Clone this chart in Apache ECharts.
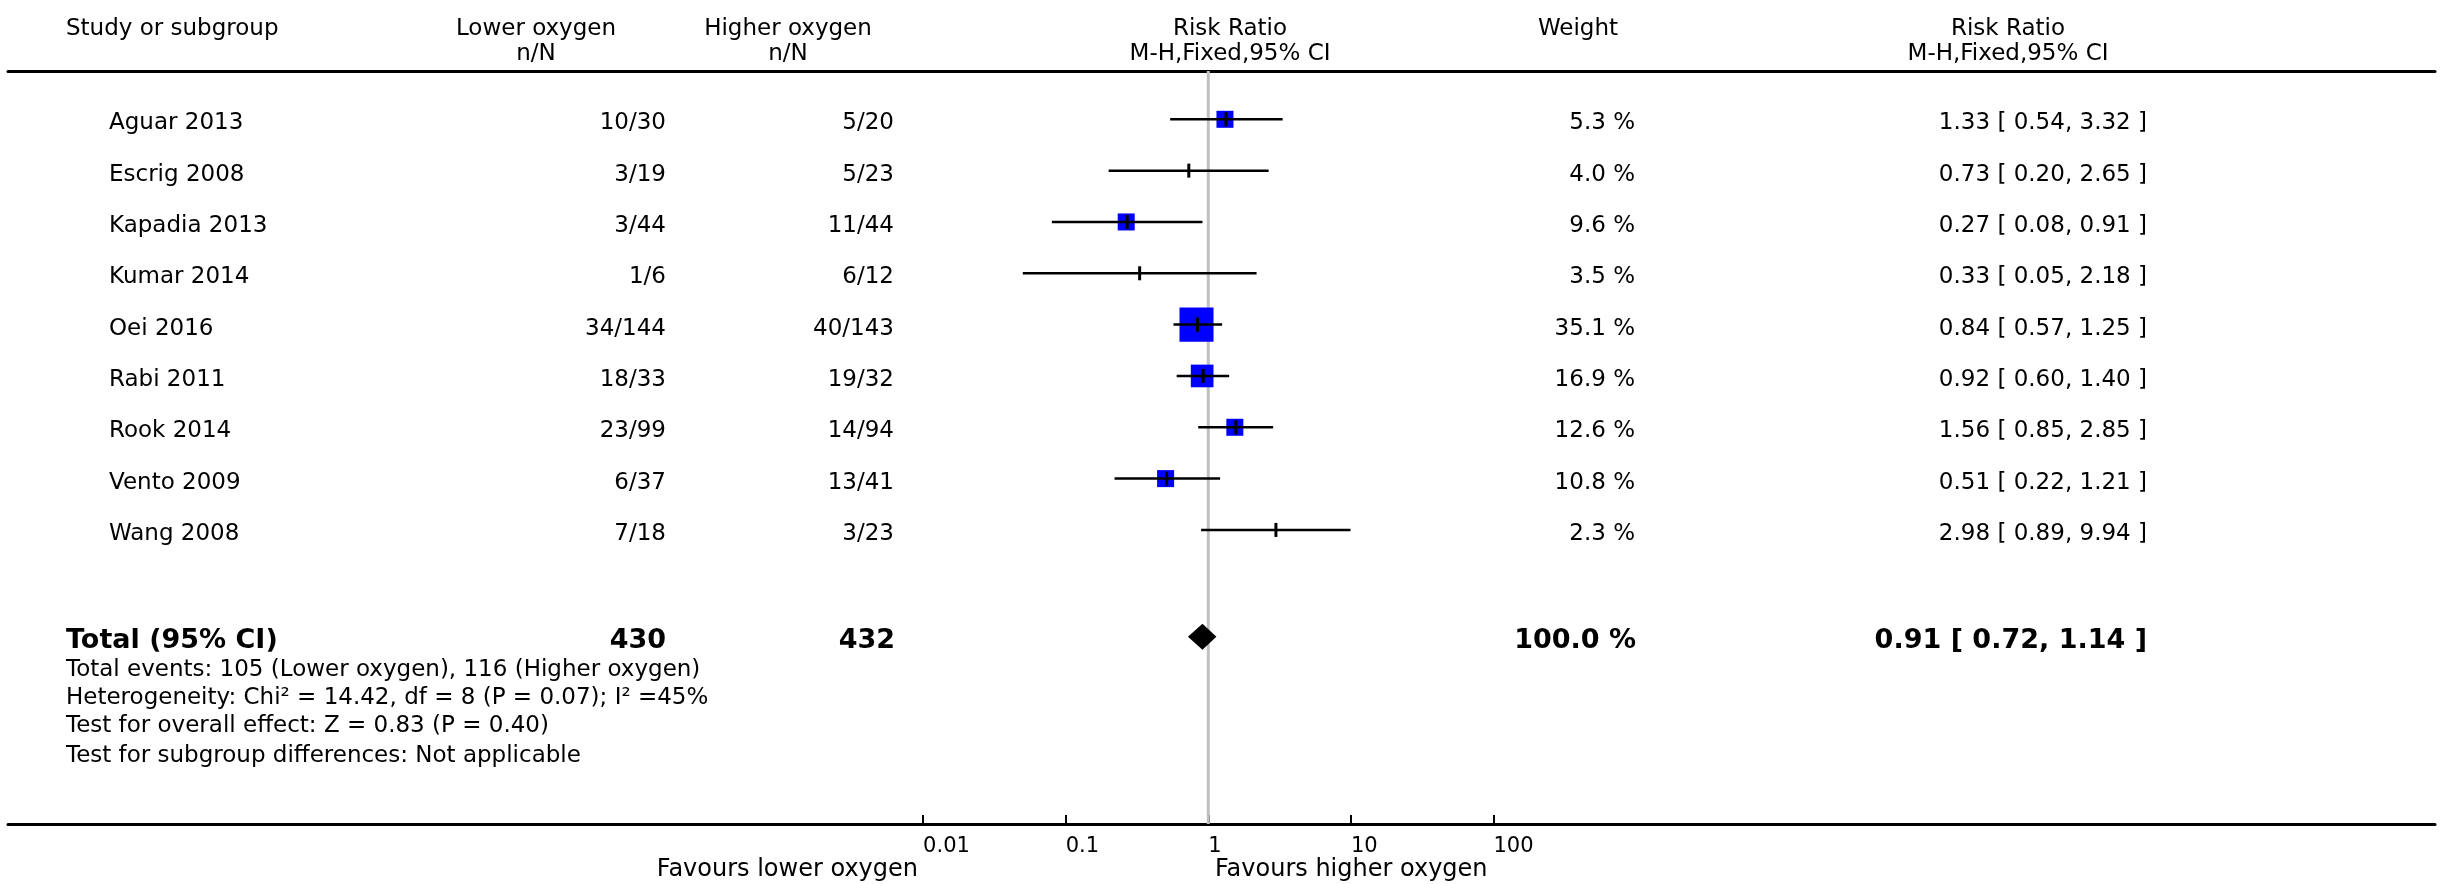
<!DOCTYPE html>
<html><head><meta charset="utf-8">
<script src="https://cdn.jsdelivr.net/npm/echarts@6/dist/echarts.min.js"></script>
<style>html,body{margin:0;padding:0;background:#fff}#c{width:2443px;height:884px}</style>
</head><body><div id="c"></div>
<script>
// ---------------- data ----------------
const studies = ['Aguar 2013','Escrig 2008','Kapadia 2013','Kumar 2014','Oei 2016','Rabi 2011','Rook 2014','Vento 2009','Wang 2008'];
const lowerEvents = ['10/30','3/19','3/44','1/6','34/144','18/33','23/99','6/37','7/18'];
const higherEvents = ['5/20','5/23','11/44','6/12','40/143','19/32','14/94','13/41','3/23'];
const weights = [5.3,4.0,9.6,3.5,35.1,16.9,12.6,10.8,2.3];
const rr = [1.33,0.73,0.27,0.33,0.84,0.92,1.56,0.51,2.98];
const ciLow = [0.54,0.20,0.08,0.05,0.57,0.60,0.85,0.22,0.89];
const ciHigh = [3.32,2.65,0.91,2.18,1.25,1.40,2.85,1.21,9.94];
const totalLabel = 'Total (95% CI)';
const totalLower = '430';
const totalHigher = '432';
const totalWeight = 100.0;
const totalRR = 0.91, totalLow = 0.72, totalHigh = 1.14;
const footnotes = [
  'Total events: 105 (Lower oxygen), 116 (Higher oxygen)',
  'Heterogeneity: Chi\u00B2 = 14.42, df = 8 (P = 0.07); I\u00B2 =45%',
  'Test for overall effect: Z = 0.83 (P = 0.40)',
  'Test for subgroup differences: Not applicable'
];
const tickValues = [0.01, 0.1, 1, 10, 100];
const tickLabels = ['0.01', '0.1', '1', '10', '100'];
const favoursLeft = 'Favours lower oxygen';
const favoursRight = 'Favours higher oxygen';

// ---------------- layout ----------------
const FONT = 'DejaVu Sans';
const PLOT_L = 8, PLOT_R = 2435;
const X_ONE = 1208.3, DECADE = 142.6;
const ROW0 = 119.3, ROW_STEP = 51.33;
const GRID_TOP = 71, AXIS_Y = 824;
const TOTAL_ROW = 10.08;
const TEXT_DY = 4;
const FS = 23;

const xMin = Math.pow(10, (PLOT_L - X_ONE) / DECADE);
const xMax = Math.pow(10, (PLOT_R - X_ONE) / DECADE);
const yMin = (GRID_TOP - ROW0) / ROW_STEP;
const yMax = (AXIS_Y - ROW0) / ROW_STEP;

// RevMan-style stepped box size from study weight
function boxSide(w) {
  const n = Math.round(1.95 + 0.11 * w);
  return n >= 3 ? n * 5.67 : 0;
}
const fmt2 = v => v.toFixed(2);
const ciText = (r, l, h) => `${fmt2(r)} [ ${fmt2(l)}, ${fmt2(h)} ]`;

function textColumn(texts, rows, xAnchor, align, bold, size) {
  return {
    type: 'custom', xAxisIndex: 1, yAxisIndex: 0, silent: true, z: 5,
    data: texts.map((t, i) => [xAnchor, rows[i]]),
    renderItem(params, api) {
      const p = api.coord([api.value(0), api.value(1)]);
      return {
        type: 'text', x: p[0], y: p[1] + TEXT_DY,
        style: {
          text: texts[params.dataIndex], align: align, verticalAlign: 'middle',
          fontFamily: FONT, fontSize: size || FS, fontWeight: bold ? 'bold' : 'normal', fill: '#000'
        }
      };
    }
  };
}
const rowIdx = studies.map((s, i) => i);

function hText(text, x, y, align, opts) {
  opts = opts || {};
  return {
    type: 'text', x: x, y: y, silent: true,
    style: { text: text, align: align, verticalAlign: 'middle', fontFamily: FONT,
      fontSize: opts.size || FS, fontWeight: opts.bold ? 'bold' : 'normal', fill: '#000' }
  };
}

const chart = echarts.init(document.getElementById('c'), null, { renderer: 'canvas' });
chart.setOption({
  animation: false,
  backgroundColor: '#ffffff',
  grid: { left: PLOT_L, right: 2443 - PLOT_R, top: GRID_TOP, bottom: 884 - AXIS_Y, containLabel: false },
  xAxis: [
    {
      type: 'log', logBase: 10, min: xMin, max: xMax, position: 'bottom',
      axisLine: { show: true, onZero: false, lineStyle: { color: '#000', width: 3 } },
      axisTick: { show: true, inside: true, length: 9, customValues: tickValues, lineStyle: { color: '#000', width: 2 } },
      axisLabel: {
        show: true, customValues: tickValues, align: 'left', margin: 12,
        fontFamily: FONT, fontSize: 21, color: '#000',
        formatter: v => {
          const i = tickValues.findIndex(t => Math.abs(Math.log10(t) - Math.log10(v)) < 1e-6);
          return i >= 0 ? tickLabels[i] : '';
        }
      },
      splitLine: { show: false }, minorTick: { show: false }, minorSplitLine: { show: false }
    },
    {
      type: 'value', min: PLOT_L, max: PLOT_R, position: 'top',
      axisLine: { show: true, onZero: false, lineStyle: { color: '#000', width: 3 } },
      axisTick: { show: false }, axisLabel: { show: false }, splitLine: { show: false }
    }
  ],
  yAxis: [{ type: 'value', inverse: true, min: yMin, max: yMax, show: false, splitLine: { show: false } }],
  series: [
    {
      type: 'line', xAxisIndex: 0, yAxisIndex: 0, z: 1, silent: true, symbol: 'none',
      data: [[1, yMin], [1, yMax]],
      lineStyle: { color: '#c0c0c0', width: 3 }
    },
    {
      type: 'custom', xAxisIndex: 0, yAxisIndex: 0, z: 3, silent: true,
      data: studies.map((s, i) => [rr[i], i, ciLow[i], ciHigh[i], weights[i]]),
      encode: { x: [0, 2, 3], y: 1 },
      renderItem(params, api) {
        const y = api.value(1);
        const c = api.coord([api.value(0), y]);
        const l = api.coord([api.value(2), y]);
        const h = api.coord([api.value(3), y]);
        const side = boxSide(api.value(4));
        const ch = [];
        if (side > 0) ch.push({ type: 'rect', shape: { x: c[0] - side / 2 - 1, y: c[1] - side / 2, width: side, height: side }, style: { fill: '#0000ff' } });
        ch.push({ type: 'line', shape: { x1: l[0], y1: c[1], x2: h[0], y2: c[1] }, style: { stroke: '#000', lineWidth: 2.5 } });
        ch.push({ type: 'line', shape: { x1: c[0], y1: c[1] - 7, x2: c[0], y2: c[1] + 7 }, style: { stroke: '#000', lineWidth: 3 } });
        return { type: 'group', children: ch };
      }
    },
    {
      type: 'custom', xAxisIndex: 0, yAxisIndex: 0, z: 3, silent: true,
      data: [[totalRR, TOTAL_ROW, totalLow, totalHigh]],
      encode: { x: [0, 2, 3], y: 1 },
      renderItem(params, api) {
        const y = api.value(1);
        const c = api.coord([api.value(0), y]);
        const l = api.coord([api.value(2), y]);
        const h = api.coord([api.value(3), y]);
        return { type: 'polygon', shape: { points: [[l[0], c[1]], [c[0], c[1] - 13], [h[0], c[1]], [c[0], c[1] + 13]] }, style: { fill: '#000' } };
      }
    },
    textColumn(studies, rowIdx, 109, 'left'),
    textColumn(lowerEvents, rowIdx, 666, 'right'),
    textColumn(higherEvents, rowIdx, 894, 'right'),
    textColumn(weights.map(w => w.toFixed(1) + ' %'), rowIdx, 1635, 'right'),
    textColumn(rr.map((r, i) => ciText(r, ciLow[i], ciHigh[i])), rowIdx, 2147, 'right'),
    textColumn([totalLabel], [TOTAL_ROW], 66, 'left', true, 27),
    textColumn([totalLower], [TOTAL_ROW], 666, 'right', true, 27),
    textColumn([totalHigher], [TOTAL_ROW], 895, 'right', true, 27),
    textColumn([totalWeight.toFixed(1) + ' %'], [TOTAL_ROW], 1636, 'right', true, 27),
    textColumn([ciText(totalRR, totalLow, totalHigh)], [TOTAL_ROW], 2147, 'right', true, 27)
  ],
  graphic: [
    hText('Study or subgroup', 66, 29, 'left'),
    hText('Lower oxygen', 536, 29, 'center'),
    hText('n/N', 536, 54, 'center'),
    hText('Higher oxygen', 788, 29, 'center'),
    hText('n/N', 788, 54, 'center'),
    hText('Risk Ratio', 1230, 29, 'center'),
    hText('M-H,Fixed,95% CI', 1230, 54, 'center'),
    hText('Weight', 1578, 29, 'center'),
    hText('Risk Ratio', 2008, 29, 'center'),
    hText('M-H,Fixed,95% CI', 2008, 54, 'center'),
    hText(footnotes[0], 66, 670, 'left'),
    hText(footnotes[1], 66, 698, 'left'),
    hText(footnotes[2], 66, 726, 'left'),
    hText(footnotes[3], 66, 756, 'left'),
    hText(favoursLeft, 918, 870, 'right', { size: 24 }),
    hText(favoursRight, 1215, 870, 'left', { size: 24 })
  ]
});
</script>
</body></html>
